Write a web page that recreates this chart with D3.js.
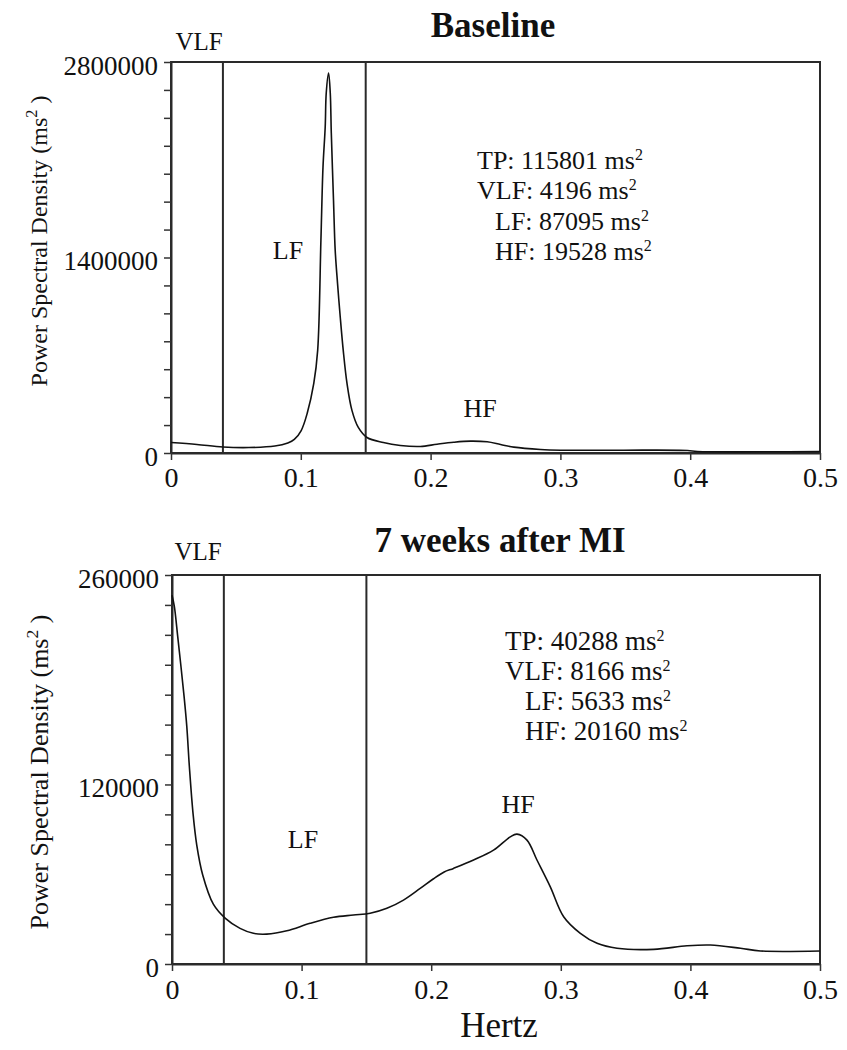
<!DOCTYPE html>
<html>
<head>
<meta charset="utf-8">
<script src="https://cdn.jsdelivr.net/npm/d3@7"></script>
<style>
html,body{margin:0;padding:0;background:#fff;}
svg{display:block;}
text{font-family:"Liberation Serif","Times New Roman",serif;fill:#111;}
</style>
</head>
<body>
<svg id="chart" width="847" height="1050"></svg>
<script>
// ---------- data ----------
const xTicks = [0, 0.1, 0.2, 0.3, 0.4, 0.5];
const bandEdges = [0.04, 0.15];

// Baseline spectrum
const topFreq = [0, 0.02, 0.04, 0.06, 0.08, 0.09, 0.095, 0.1003, 0.1049, 0.11, 0.113, 0.1155, 0.1171, 0.1188, 0.1196, 0.1214,
  0.1227, 0.1235, 0.1252, 0.1265, 0.1283, 0.1304, 0.1327, 0.1356, 0.1394, 0.1443, 0.151, 0.1636, 0.1767, 0.1921,
  0.205, 0.2178, 0.2307, 0.2436, 0.2539, 0.2641, 0.2847, 0.3002, 0.3465, 0.3979, 0.4056, 0.5];
const topPsd = [75000, 61000, 43000, 39000, 50000, 72000, 97000, 161000, 283000, 498000, 735000, 1524000, 2047000, 2334000, 2578000, 2721000,
  2578000, 2291000, 1810000, 1452000, 1215000, 972000, 735000, 498000, 305000, 183000, 111000, 75000, 54000, 47000,
  63000, 77000, 85000, 80000, 61000, 42000, 25000, 20000, 20000, 18000, 11000, 11000];
const topYTicks = [0, 1400000, 2800000];
const topYMax = 2800000;
const topMinorStep = 200000;
const topTitle = "Baseline";
const topStats = ["TP: 115801", "VLF: 4196", "LF: 87095", "HF: 19528"];

// 7 weeks after MI spectrum
const botFreq = [0, 0.0018, 0.0044, 0.0069, 0.0093, 0.0114, 0.0134, 0.0163, 0.0191, 0.0237, 0.0319, 0.0412, 0.0525,
  0.0628, 0.0731, 0.0886, 0.1066, 0.1246, 0.14, 0.1529, 0.1658, 0.1786, 0.1915, 0.2018, 0.21, 0.2172, 0.2327, 0.2481,
  0.261, 0.2662, 0.2739, 0.2816, 0.2919, 0.3022, 0.3151, 0.328, 0.3434, 0.3717, 0.3974, 0.4154, 0.4386, 0.4541, 0.5];
const botPsd = [246500, 239000, 219000, 199000, 179000, 159000, 132000, 100000, 79500, 59500, 40000, 30500, 23800,
  20500, 20000, 22200, 27200, 31200, 32700, 33900, 37200, 42700, 50500, 57000, 61500, 63900, 69500, 76100,
  85000, 86800, 82800, 69500, 51600, 31600, 20500, 13800, 10500, 9800, 12200, 12700, 10500, 8700, 8700];
const botYTicks = [0, 120000, 260000];
const botYMax = 260000;
const botMinorStep = 20000;
const botTitle = "7 weeks after MI";
const botStats = ["TP: 40288", "VLF: 8166", "LF: 5633", "HF: 20160"];

const bandNames = ["VLF", "LF", "HF"];

// ---------- drawing ----------
const svg = d3.select("#chart");

function drawPanel(cfg) {
  const x = d3.scaleLinear().domain([0, 0.5]).range([cfg.left, cfg.right]);
  const y = d3.scaleLinear().domain([0, cfg.yMax]).range([cfg.bottom, cfg.top]);
  const g = svg.append("g");

  // frame
  g.append("rect")
    .attr("x", cfg.left).attr("y", cfg.top)
    .attr("width", cfg.right - cfg.left).attr("height", cfg.bottom - cfg.top)
    .attr("fill", "none").attr("stroke", "#2a2a2a").attr("stroke-width", 2);

  // y axis
  const yAx = g.append("g").attr("transform", `translate(${cfg.left},0)`)
    .call(d3.axisLeft(y)
      .tickValues(d3.range(0, cfg.yMax + 1, cfg.minorStep))
      .tickSize(7).tickSizeOuter(0).tickPadding(6)
      .tickFormat(d => cfg.yTicks.includes(d) ? String(d) : ""));
  yAx.select(".domain").attr("stroke", "#2a2a2a").attr("stroke-width", 2);
  yAx.selectAll(".tick line").attr("stroke", "#333").attr("stroke-width", 1.5);
  yAx.selectAll("text").attr("font-family", "Liberation Serif, serif").attr("font-size", 27)
    .attr("dy", "0.45em").attr("fill", "#111");

  // x axis
  const xAx = g.append("g").attr("transform", `translate(0,${cfg.bottom})`)
    .call(d3.axisBottom(x).tickValues(xTicks).tickSize(7).tickSizeOuter(0).tickPadding(cfg.xPad)
      .tickFormat(d => d === 0 ? "0" : d3.format(".1f")(d)));
  xAx.select(".domain").attr("stroke", "#2a2a2a").attr("stroke-width", 2);
  xAx.selectAll(".tick line").attr("stroke", "#333").attr("stroke-width", 1.5);
  xAx.selectAll("text").attr("font-family", "Liberation Serif, serif").attr("font-size", 28).attr("fill", "#111");

  // band edges
  g.selectAll("line.band").data(bandEdges).enter().append("line")
    .attr("x1", d => x(d)).attr("x2", d => x(d))
    .attr("y1", cfg.top).attr("y2", cfg.bottom)
    .attr("stroke", "#2a2a2a").attr("stroke-width", 2);

  // curve
  const pts = cfg.freq.map((f, i) => [f, cfg.psd[i]]);
  g.append("path").datum(pts)
    .attr("d", d3.line().x(d => x(d[0])).y(d => y(d[1])).curve(d3.curveCatmullRom.alpha(0.5)))
    .attr("fill", "none").attr("stroke", "#111").attr("stroke-width", 1.6);

  // title
  g.append("text").attr("x", cfg.titleX).attr("y", cfg.titleY)
    .attr("text-anchor", "middle").attr("font-weight", "bold").attr("font-size", 35)
    .text(cfg.title);

  // band labels
  cfg.bandLabels.forEach((b, i) => {
    g.append("text").attr("x", b[0]).attr("y", b[1]).attr("text-anchor", "middle")
      .attr("font-size", i === 0 ? 25 : 26).text(bandNames[i]);
  });

  // stats block
  cfg.stats.forEach((s, i) => {
    const t = g.append("text").attr("x", cfg.statX[i]).attr("y", cfg.statY[i])
      .attr("font-size", cfg.statFont);
    t.append("tspan").text(s + " ms");
    t.append("tspan").attr("font-size", 16).attr("dy", -9).text("2");
  });

  // y label
  const yl = g.append("text")
    .attr("transform", `translate(${cfg.ylX},${cfg.ylY}) rotate(-90)`)
    .attr("text-anchor", "middle").attr("font-size", cfg.ylFont);
  yl.append("tspan").text("Power Spectral Density (ms");
  yl.append("tspan").attr("font-size", cfg.ylFont * 0.68).attr("dy", -10).text("2");
  yl.append("tspan").attr("dy", 10).text(" )");
}

drawPanel({
  left: 171, right: 820, top: 62, bottom: 453, yMax: topYMax, minorStep: topMinorStep,
  yTicks: topYTicks, xPad: 7, freq: topFreq, psd: topPsd,
  title: topTitle, titleX: 493, titleY: 37,
  bandLabels: [[199, 50], [288, 259], [480, 417]],
  stats: topStats, statX: [477, 477, 495, 495], statY: [169, 199, 230, 260], statFont: 26,
  ylX: 47, ylY: 241, ylFont: 24
});

drawPanel({
  left: 172, right: 820, top: 575, bottom: 964, yMax: botYMax, minorStep: botMinorStep,
  yTicks: botYTicks, xPad: 8, freq: botFreq, psd: botPsd,
  title: botTitle, titleX: 500, titleY: 552,
  bandLabels: [[198, 560], [303, 848], [518, 813]],
  stats: botStats, statX: [505, 505, 525, 525], statY: [650, 680, 710, 740], statFont: 27,
  ylX: 48, ylY: 772, ylFont: 26
});

// x axis label
svg.append("text").attr("x", 499).attr("y", 1037).attr("text-anchor", "middle")
  .attr("font-size", 35).text("Hertz");
</script>
</body>
</html>
